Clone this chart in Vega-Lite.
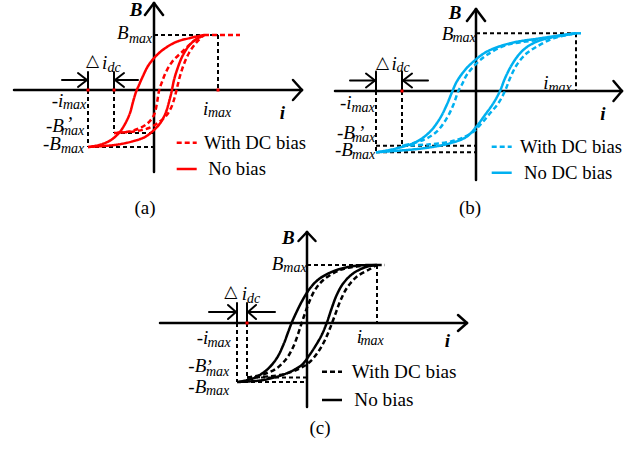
{
"$schema":"https://vega.github.io/schema/vega-lite/v6.json",
"padding":0,
"spacing":0,
"config":{"view":{"stroke":null},"concat":{"spacing":0},"text":{"font":"Liberation Serif, Times New Roman, serif"}},
"resolve":{"scale":{"x":"independent","y":"independent"}},
"datasets":{
"segments":[
{"panel":"a","series":"axis","i":-140,"B":0,"i2":148,"B2":0},
{"panel":"a","series":"axis","i":139,"B":10,"i2":148,"B2":0},
{"panel":"a","series":"axis","i":139,"B":-10,"i2":148,"B2":0},
{"panel":"a","series":"axis","i":0,"B":-82,"i2":0,"B2":87},
{"panel":"a","series":"axis","i":-9,"B":75,"i2":0,"B2":87},
{"panel":"a","series":"axis","i":9,"B":75,"i2":0,"B2":87},
{"panel":"a","series":"arrow","i":-66,"B":0,"i2":-66,"B2":18},
{"panel":"a","series":"arrow","i":-40,"B":0,"i2":-40,"B2":18},
{"panel":"a","series":"arrow","i":-92,"B":10,"i2":-67,"B2":10},
{"panel":"a","series":"arrow","i":-76,"B":17,"i2":-67,"B2":10},
{"panel":"a","series":"arrow","i":-76,"B":3,"i2":-67,"B2":10},
{"panel":"a","series":"arrow","i":-16,"B":10,"i2":-39,"B2":10},
{"panel":"a","series":"arrow","i":-30,"B":17,"i2":-39,"B2":10},
{"panel":"a","series":"arrow","i":-30,"B":3,"i2":-39,"B2":10},
{"panel":"a","series":"guide","i":0,"B":55,"i2":64,"B2":55},
{"panel":"a","series":"guide","i":64,"B":55,"i2":64,"B2":0},
{"panel":"a","series":"guide","i":-66,"B":0,"i2":-66,"B2":-57},
{"panel":"a","series":"guide","i":-66,"B":-57,"i2":0,"B2":-57},
{"panel":"a","series":"guide","i":-40,"B":0,"i2":-40,"B2":-43},
{"panel":"a","series":"guide","i":-40,"B":-43,"i2":0,"B2":-43},
{"panel":"b","series":"axis","i":-141,"B":0,"i2":146,"B2":0},
{"panel":"b","series":"axis","i":137.5,"B":10,"i2":146,"B2":0},
{"panel":"b","series":"axis","i":137.5,"B":-10,"i2":146,"B2":0},
{"panel":"b","series":"axis","i":0,"B":-89,"i2":0,"B2":82},
{"panel":"b","series":"axis","i":-9,"B":70,"i2":0,"B2":82},
{"panel":"b","series":"axis","i":9,"B":70,"i2":0,"B2":82},
{"panel":"b","series":"arrow","i":-100,"B":0,"i2":-100,"B2":19.5},
{"panel":"b","series":"arrow","i":-74,"B":0,"i2":-74,"B2":19.5},
{"panel":"b","series":"arrow","i":-126,"B":10.5,"i2":-101,"B2":10.5},
{"panel":"b","series":"arrow","i":-110,"B":17.5,"i2":-101,"B2":10.5},
{"panel":"b","series":"arrow","i":-110,"B":3.5,"i2":-101,"B2":10.5},
{"panel":"b","series":"arrow","i":-48,"B":10.5,"i2":-73,"B2":10.5},
{"panel":"b","series":"arrow","i":-64,"B":17.5,"i2":-73,"B2":10.5},
{"panel":"b","series":"arrow","i":-64,"B":3.5,"i2":-73,"B2":10.5},
{"panel":"b","series":"guide","i":0,"B":57.7,"i2":100,"B2":57.7},
{"panel":"b","series":"guide","i":100,"B":57.7,"i2":100,"B2":0},
{"panel":"b","series":"guide","i":-100,"B":0,"i2":-100,"B2":-61.3},
{"panel":"b","series":"guide","i":-100,"B":-61.3,"i2":0,"B2":-61.3},
{"panel":"b","series":"guide","i":-74,"B":0,"i2":-74,"B2":-54.7},
{"panel":"b","series":"guide","i":-100,"B":-54.7,"i2":0,"B2":-54.7},
{"panel":"c","series":"axis","i":-147,"B":0,"i2":160,"B2":0},
{"panel":"c","series":"axis","i":151,"B":8,"i2":160,"B2":0},
{"panel":"c","series":"axis","i":151,"B":-8,"i2":160,"B2":0},
{"panel":"c","series":"axis","i":0,"B":-84,"i2":0,"B2":91},
{"panel":"c","series":"axis","i":-8.5,"B":82,"i2":0,"B2":91},
{"panel":"c","series":"axis","i":8.5,"B":82,"i2":0,"B2":91},
{"panel":"c","series":"arrow","i":-70,"B":0,"i2":-70,"B2":20},
{"panel":"c","series":"arrow","i":-60,"B":0,"i2":-60,"B2":20},
{"panel":"c","series":"arrow","i":-98,"B":11,"i2":-71,"B2":11},
{"panel":"c","series":"arrow","i":-79,"B":18,"i2":-71,"B2":11},
{"panel":"c","series":"arrow","i":-79,"B":4,"i2":-71,"B2":11},
{"panel":"c","series":"arrow","i":-32,"B":11,"i2":-59,"B2":11},
{"panel":"c","series":"arrow","i":-51,"B":18,"i2":-59,"B2":11},
{"panel":"c","series":"arrow","i":-51,"B":4,"i2":-59,"B2":11},
{"panel":"c","series":"guide","i":0,"B":58,"i2":70,"B2":58},
{"panel":"c","series":"guide","i":70,"B":58,"i2":70,"B2":0},
{"panel":"c","series":"guide","i":-70,"B":0,"i2":-70,"B2":-59},
{"panel":"c","series":"guide","i":-70,"B":-59,"i2":0,"B2":-59},
{"panel":"c","series":"guide","i":-60,"B":0,"i2":-60,"B2":-54.5},
{"panel":"c","series":"guide","i":-60,"B":-54.5,"i2":0,"B2":-54.5}
],
"curves":[
{"panel":"a","id":"a1","series":"No bias","ord":1,"i":50,"B":55},
{"panel":"a","id":"a1","series":"No bias","ord":2,"i":36,"B":52},
{"panel":"a","id":"a1","series":"No bias","ord":3,"i":22,"B":48},
{"panel":"a","id":"a1","series":"No bias","ord":4,"i":10,"B":41},
{"panel":"a","id":"a1","series":"No bias","ord":5,"i":1,"B":33},
{"panel":"a","id":"a1","series":"No bias","ord":6,"i":-6,"B":24},
{"panel":"a","id":"a1","series":"No bias","ord":7,"i":-11,"B":14},
{"panel":"a","id":"a1","series":"No bias","ord":8,"i":-15,"B":5},
{"panel":"a","id":"a1","series":"No bias","ord":9,"i":-18,"B":-2},
{"panel":"a","id":"a1","series":"No bias","ord":10,"i":-21,"B":-12},
{"panel":"a","id":"a1","series":"No bias","ord":11,"i":-24,"B":-23},
{"panel":"a","id":"a1","series":"No bias","ord":12,"i":-29,"B":-34},
{"panel":"a","id":"a1","series":"No bias","ord":13,"i":-35,"B":-43},
{"panel":"a","id":"a1","series":"No bias","ord":14,"i":-43,"B":-50},
{"panel":"a","id":"a1","series":"No bias","ord":15,"i":-53,"B":-54.5},
{"panel":"a","id":"a1","series":"No bias","ord":16,"i":-66,"B":-57},
{"panel":"a","id":"a2","series":"No bias","ord":1,"i":-66,"B":-57},
{"panel":"a","id":"a2","series":"No bias","ord":2,"i":-50,"B":-56},
{"panel":"a","id":"a2","series":"No bias","ord":3,"i":-36,"B":-54.5},
{"panel":"a","id":"a2","series":"No bias","ord":4,"i":-22,"B":-51.5},
{"panel":"a","id":"a2","series":"No bias","ord":5,"i":-9,"B":-47},
{"panel":"a","id":"a2","series":"No bias","ord":6,"i":0,"B":-40},
{"panel":"a","id":"a2","series":"No bias","ord":7,"i":7,"B":-32},
{"panel":"a","id":"a2","series":"No bias","ord":8,"i":12,"B":-22},
{"panel":"a","id":"a2","series":"No bias","ord":9,"i":15,"B":-12},
{"panel":"a","id":"a2","series":"No bias","ord":10,"i":17.5,"B":-2},
{"panel":"a","id":"a2","series":"No bias","ord":11,"i":20,"B":10},
{"panel":"a","id":"a2","series":"No bias","ord":12,"i":23,"B":20},
{"panel":"a","id":"a2","series":"No bias","ord":13,"i":28,"B":33},
{"panel":"a","id":"a2","series":"No bias","ord":14,"i":34,"B":43},
{"panel":"a","id":"a2","series":"No bias","ord":15,"i":41,"B":50},
{"panel":"a","id":"a2","series":"No bias","ord":16,"i":50,"B":55},
{"panel":"a","id":"a3","series":"With DC bias","ord":1,"i":50,"B":55},
{"panel":"a","id":"a3","series":"With DC bias","ord":2,"i":40,"B":49},
{"panel":"a","id":"a3","series":"With DC bias","ord":3,"i":28,"B":38},
{"panel":"a","id":"a3","series":"With DC bias","ord":4,"i":18,"B":28},
{"panel":"a","id":"a3","series":"With DC bias","ord":5,"i":12,"B":18},
{"panel":"a","id":"a3","series":"With DC bias","ord":6,"i":8,"B":8},
{"panel":"a","id":"a3","series":"With DC bias","ord":7,"i":5,"B":-1},
{"panel":"a","id":"a3","series":"With DC bias","ord":8,"i":3,"B":-13},
{"panel":"a","id":"a3","series":"With DC bias","ord":9,"i":0,"B":-25},
{"panel":"a","id":"a3","series":"With DC bias","ord":10,"i":-6,"B":-33},
{"panel":"a","id":"a3","series":"With DC bias","ord":11,"i":-14,"B":-38},
{"panel":"a","id":"a3","series":"With DC bias","ord":12,"i":-25,"B":-41.5},
{"panel":"a","id":"a3","series":"With DC bias","ord":13,"i":-40,"B":-43},
{"panel":"a","id":"a4","series":"With DC bias","ord":1,"i":-40,"B":-43},
{"panel":"a","id":"a4","series":"With DC bias","ord":2,"i":-20,"B":-41.5},
{"panel":"a","id":"a4","series":"With DC bias","ord":3,"i":-5,"B":-38},
{"panel":"a","id":"a4","series":"With DC bias","ord":4,"i":5,"B":-32},
{"panel":"a","id":"a4","series":"With DC bias","ord":5,"i":12,"B":-26},
{"panel":"a","id":"a4","series":"With DC bias","ord":6,"i":17,"B":-18},
{"panel":"a","id":"a4","series":"With DC bias","ord":7,"i":20.5,"B":-8},
{"panel":"a","id":"a4","series":"With DC bias","ord":8,"i":23,"B":2},
{"panel":"a","id":"a4","series":"With DC bias","ord":9,"i":26,"B":14},
{"panel":"a","id":"a4","series":"With DC bias","ord":10,"i":30,"B":26},
{"panel":"a","id":"a4","series":"With DC bias","ord":11,"i":35,"B":37},
{"panel":"a","id":"a4","series":"With DC bias","ord":12,"i":42,"B":47},
{"panel":"a","id":"a4","series":"With DC bias","ord":13,"i":50,"B":55},
{"panel":"a","id":"a5","series":"With DC bias","ord":1,"i":50,"B":55},
{"panel":"a","id":"a5","series":"With DC bias","ord":2,"i":86,"B":55},
{"panel":"a","id":"a6","series":"With DC bias","ord":1,"i":22.7,"B":-52.7},
{"panel":"a","id":"a6","series":"With DC bias","ord":2,"i":42.7,"B":-52.7},
{"panel":"a","id":"a7","series":"No bias","ord":1,"i":22.7,"B":-79},
{"panel":"a","id":"a7","series":"No bias","ord":2,"i":42.7,"B":-79},
{"panel":"b","id":"b1","series":"No bias","ord":1,"i":100,"B":57.7},
{"panel":"b","id":"b1","series":"No bias","ord":2,"i":64,"B":52.7},
{"panel":"b","id":"b1","series":"No bias","ord":3,"i":34,"B":47.7},
{"panel":"b","id":"b1","series":"No bias","ord":4,"i":10.7,"B":39.3},
{"panel":"b","id":"b1","series":"No bias","ord":5,"i":-2.7,"B":29.3},
{"panel":"b","id":"b1","series":"No bias","ord":6,"i":-11,"B":21},
{"panel":"b","id":"b1","series":"No bias","ord":7,"i":-19.3,"B":9.3},
{"panel":"b","id":"b1","series":"No bias","ord":8,"i":-23.5,"B":0},
{"panel":"b","id":"b1","series":"No bias","ord":9,"i":-29.3,"B":-14},
{"panel":"b","id":"b1","series":"No bias","ord":10,"i":-36,"B":-27.3},
{"panel":"b","id":"b1","series":"No bias","ord":11,"i":-46,"B":-40.7},
{"panel":"b","id":"b1","series":"No bias","ord":12,"i":-59.3,"B":-50.7},
{"panel":"b","id":"b1","series":"No bias","ord":13,"i":-79.3,"B":-57.3},
{"panel":"b","id":"b1","series":"No bias","ord":14,"i":-100,"B":-61.3},
{"panel":"b","id":"b2","series":"No bias","ord":1,"i":-100,"B":-61.3},
{"panel":"b","id":"b2","series":"No bias","ord":2,"i":-52.7,"B":-57.3},
{"panel":"b","id":"b2","series":"No bias","ord":3,"i":-26,"B":-52.3},
{"panel":"b","id":"b2","series":"No bias","ord":4,"i":-9.3,"B":-45.7},
{"panel":"b","id":"b2","series":"No bias","ord":5,"i":0,"B":-36},
{"panel":"b","id":"b2","series":"No bias","ord":6,"i":9,"B":-24},
{"panel":"b","id":"b2","series":"No bias","ord":7,"i":17.3,"B":-12.3},
{"panel":"b","id":"b2","series":"No bias","ord":8,"i":24,"B":0},
{"panel":"b","id":"b2","series":"No bias","ord":9,"i":29,"B":12.7},
{"panel":"b","id":"b2","series":"No bias","ord":10,"i":35.7,"B":26},
{"panel":"b","id":"b2","series":"No bias","ord":11,"i":44,"B":37.7},
{"panel":"b","id":"b2","series":"No bias","ord":12,"i":54,"B":46},
{"panel":"b","id":"b2","series":"No bias","ord":13,"i":70.7,"B":52.7},
{"panel":"b","id":"b2","series":"No bias","ord":14,"i":100,"B":57.7},
{"panel":"b","id":"b3","series":"With DC bias","ord":1,"i":100,"B":57.7},
{"panel":"b","id":"b3","series":"With DC bias","ord":2,"i":60.7,"B":51},
{"panel":"b","id":"b3","series":"With DC bias","ord":3,"i":30.7,"B":46},
{"panel":"b","id":"b3","series":"With DC bias","ord":4,"i":10.7,"B":36},
{"panel":"b","id":"b3","series":"With DC bias","ord":5,"i":-1,"B":26},
{"panel":"b","id":"b3","series":"With DC bias","ord":6,"i":-9.3,"B":16},
{"panel":"b","id":"b3","series":"With DC bias","ord":7,"i":-14.3,"B":6},
{"panel":"b","id":"b3","series":"With DC bias","ord":8,"i":-17.7,"B":0},
{"panel":"b","id":"b3","series":"With DC bias","ord":9,"i":-22.7,"B":-14},
{"panel":"b","id":"b3","series":"With DC bias","ord":10,"i":-29.3,"B":-27.3},
{"panel":"b","id":"b3","series":"With DC bias","ord":11,"i":-39.3,"B":-40.7},
{"panel":"b","id":"b3","series":"With DC bias","ord":12,"i":-52.7,"B":-49},
{"panel":"b","id":"b3","series":"With DC bias","ord":13,"i":-74,"B":-54.7},
{"panel":"b","id":"b4","series":"With DC bias","ord":1,"i":-74,"B":-54.7},
{"panel":"b","id":"b4","series":"With DC bias","ord":2,"i":-46,"B":-53.3},
{"panel":"b","id":"b4","series":"With DC bias","ord":3,"i":-19.3,"B":-49},
{"panel":"b","id":"b4","series":"With DC bias","ord":4,"i":-2.7,"B":-40.7},
{"panel":"b","id":"b4","series":"With DC bias","ord":5,"i":5.7,"B":-32.3},
{"panel":"b","id":"b4","series":"With DC bias","ord":6,"i":14,"B":-22.3},
{"panel":"b","id":"b4","series":"With DC bias","ord":7,"i":22.3,"B":-12.3},
{"panel":"b","id":"b4","series":"With DC bias","ord":8,"i":29,"B":0},
{"panel":"b","id":"b4","series":"With DC bias","ord":9,"i":34,"B":12.7},
{"panel":"b","id":"b4","series":"With DC bias","ord":10,"i":40.7,"B":26},
{"panel":"b","id":"b4","series":"With DC bias","ord":11,"i":50.7,"B":37.7},
{"panel":"b","id":"b4","series":"With DC bias","ord":12,"i":60.7,"B":44.3},
{"panel":"b","id":"b4","series":"With DC bias","ord":13,"i":77.3,"B":52.7},
{"panel":"b","id":"b4","series":"With DC bias","ord":14,"i":100,"B":57.7},
{"panel":"b","id":"b5","series":"With DC bias","ord":1,"i":100,"B":57.7},
{"panel":"b","id":"b5","series":"With DC bias","ord":2,"i":107.5,"B":57.7},
{"panel":"b","id":"b6","series":"With DC bias","ord":1,"i":15.7,"B":-55.7},
{"panel":"b","id":"b6","series":"With DC bias","ord":2,"i":35.7,"B":-55.7},
{"panel":"b","id":"b7","series":"No bias","ord":1,"i":15.7,"B":-81.7},
{"panel":"b","id":"b7","series":"No bias","ord":2,"i":35.7,"B":-81.7},
{"panel":"c","id":"c1","series":"No bias","ord":1,"i":69.7,"B":58},
{"panel":"c","id":"c1","series":"No bias","ord":2,"i":49.7,"B":57.3},
{"panel":"c","id":"c1","series":"No bias","ord":3,"i":29.7,"B":53},
{"panel":"c","id":"c1","series":"No bias","ord":4,"i":13,"B":44.7},
{"panel":"c","id":"c1","series":"No bias","ord":5,"i":3,"B":34.7},
{"panel":"c","id":"c1","series":"No bias","ord":6,"i":-5.3,"B":21.3},
{"panel":"c","id":"c1","series":"No bias","ord":7,"i":-10.3,"B":11.3},
{"panel":"c","id":"c1","series":"No bias","ord":8,"i":-15,"B":1},
{"panel":"c","id":"c1","series":"No bias","ord":9,"i":-18.7,"B":-8.7},
{"panel":"c","id":"c1","series":"No bias","ord":10,"i":-23.7,"B":-22},
{"panel":"c","id":"c1","series":"No bias","ord":11,"i":-30.3,"B":-35.3},
{"panel":"c","id":"c1","series":"No bias","ord":12,"i":-40.3,"B":-47},
{"panel":"c","id":"c1","series":"No bias","ord":13,"i":-53.7,"B":-55.3},
{"panel":"c","id":"c1","series":"No bias","ord":14,"i":-69.7,"B":-59},
{"panel":"c","id":"c2","series":"No bias","ord":1,"i":-69.7,"B":-59},
{"panel":"c","id":"c2","series":"No bias","ord":2,"i":-43.7,"B":-57},
{"panel":"c","id":"c2","series":"No bias","ord":3,"i":-20.3,"B":-50.3},
{"panel":"c","id":"c2","series":"No bias","ord":4,"i":-5.3,"B":-42},
{"panel":"c","id":"c2","series":"No bias","ord":5,"i":1.3,"B":-33.7},
{"panel":"c","id":"c2","series":"No bias","ord":6,"i":8,"B":-23.7},
{"panel":"c","id":"c2","series":"No bias","ord":7,"i":14.7,"B":-12},
{"panel":"c","id":"c2","series":"No bias","ord":8,"i":19.7,"B":0},
{"panel":"c","id":"c2","series":"No bias","ord":9,"i":24.7,"B":14.7},
{"panel":"c","id":"c2","series":"No bias","ord":10,"i":29.7,"B":28},
{"panel":"c","id":"c2","series":"No bias","ord":11,"i":36.3,"B":39.7},
{"panel":"c","id":"c2","series":"No bias","ord":12,"i":46.3,"B":49.7},
{"panel":"c","id":"c2","series":"No bias","ord":13,"i":59.7,"B":56.3},
{"panel":"c","id":"c2","series":"No bias","ord":14,"i":69.7,"B":58},
{"panel":"c","id":"c3","series":"With DC bias","ord":1,"i":69.7,"B":58},
{"panel":"c","id":"c3","series":"With DC bias","ord":2,"i":50,"B":56.5},
{"panel":"c","id":"c3","series":"With DC bias","ord":3,"i":33,"B":53},
{"panel":"c","id":"c3","series":"With DC bias","ord":4,"i":16.3,"B":43},
{"panel":"c","id":"c3","series":"With DC bias","ord":5,"i":8,"B":33},
{"panel":"c","id":"c3","series":"With DC bias","ord":6,"i":3,"B":23},
{"panel":"c","id":"c3","series":"With DC bias","ord":7,"i":-2,"B":9.7},
{"panel":"c","id":"c3","series":"With DC bias","ord":8,"i":-5.3,"B":0},
{"panel":"c","id":"c3","series":"With DC bias","ord":9,"i":-8.7,"B":-10.3},
{"panel":"c","id":"c3","series":"With DC bias","ord":10,"i":-13.7,"B":-23.7},
{"panel":"c","id":"c3","series":"With DC bias","ord":11,"i":-20.3,"B":-35.3},
{"panel":"c","id":"c3","series":"With DC bias","ord":12,"i":-30.3,"B":-45.3},
{"panel":"c","id":"c3","series":"With DC bias","ord":13,"i":-43.7,"B":-51.3},
{"panel":"c","id":"c3","series":"With DC bias","ord":14,"i":-60,"B":-54.5},
{"panel":"c","id":"c4","series":"With DC bias","ord":1,"i":-60,"B":-54.5},
{"panel":"c","id":"c4","series":"With DC bias","ord":2,"i":-27,"B":-52},
{"panel":"c","id":"c4","series":"With DC bias","ord":3,"i":-7,"B":-45.3},
{"panel":"c","id":"c4","series":"With DC bias","ord":4,"i":3,"B":-38.7},
{"panel":"c","id":"c4","series":"With DC bias","ord":5,"i":11.3,"B":-28.7},
{"panel":"c","id":"c4","series":"With DC bias","ord":6,"i":18,"B":-17},
{"panel":"c","id":"c4","series":"With DC bias","ord":7,"i":23,"B":-5.3},
{"panel":"c","id":"c4","series":"With DC bias","ord":8,"i":28,"B":8},
{"panel":"c","id":"c4","series":"With DC bias","ord":9,"i":33,"B":21.3},
{"panel":"c","id":"c4","series":"With DC bias","ord":10,"i":39.7,"B":34.7},
{"panel":"c","id":"c4","series":"With DC bias","ord":11,"i":49.7,"B":46.3},
{"panel":"c","id":"c4","series":"With DC bias","ord":12,"i":63,"B":54},
{"panel":"c","id":"c4","series":"With DC bias","ord":13,"i":69.7,"B":58},
{"panel":"c","id":"c5","series":"With DC bias","ord":1,"i":69.7,"B":58},
{"panel":"c","id":"c5","series":"With DC bias","ord":2,"i":78,"B":58},
{"panel":"c","id":"c6","series":"With DC bias","ord":1,"i":15,"B":-48.7},
{"panel":"c","id":"c6","series":"With DC bias","ord":2,"i":35,"B":-48.7},
{"panel":"c","id":"c7","series":"No bias","ord":1,"i":15,"B":-77},
{"panel":"c","id":"c7","series":"No bias","ord":2,"i":35,"B":-77}
],
"dots":[
{"panel":"a","i":-66,"B":0},{"panel":"a","i":-40,"B":0},{"panel":"a","i":64,"B":0},
{"panel":"b","i":-74,"B":0},
{"panel":"c","i":-60,"B":0}
],
"texts":[
{"panel":"a","role":"axis title","text":"B","i":-18,"B":80},
{"panel":"a","role":"axis title","text":"i","i":128.5,"B":-22.5},
{"panel":"a","role":"label","text":"B","i":-37,"B":50.7},
{"panel":"a","role":"subscript","text":"max","i":-25,"B":47.3},
{"panel":"a","role":"label","text":"i","i":49,"B":-25},
{"panel":"a","role":"subscript","text":"max","i":54,"B":-27},
{"panel":"a","role":"label","text":"-i","i":-102.3,"B":-17},
{"panel":"a","role":"subscript","text":"max","i":-91,"B":-19},
{"panel":"a","role":"label","text":"-B","i":-108,"B":-41.7},
{"panel":"a","role":"label","text":"’","i":-88,"B":-40},
{"panel":"a","role":"subscript","text":"max","i":-93,"B":-45},
{"panel":"a","role":"label","text":"-B","i":-111,"B":-60},
{"panel":"a","role":"subscript","text":"max","i":-93,"B":-63},
{"panel":"a","role":"symbol","text":"△","i":-61.5,"B":29},
{"panel":"a","role":"label","text":"i","i":-52,"B":21},
{"panel":"a","role":"subscript","text":"dc","i":-46.5,"B":18.5},
{"panel":"a","role":"legend","text":"With DC bias","i":50,"B":-52.7},
{"panel":"a","role":"legend","text":"No bias","i":54.3,"B":-79},
{"panel":"a","role":"caption","text":"(a)","i":-9,"B":-118},
{"panel":"b","role":"axis title","text":"B","i":-21,"B":78.5},
{"panel":"b","role":"axis title","text":"i","i":127,"B":-23},
{"panel":"b","role":"label","text":"B","i":-34.3,"B":51},
{"panel":"b","role":"subscript","text":"max","i":-23.5,"B":49.3},
{"panel":"b","role":"label","text":"i","i":67.3,"B":2},
{"panel":"b","role":"subscript","text":"max","i":72.5,"B":-0.5},
{"panel":"b","role":"label","text":"-i","i":-136,"B":-17.5},
{"panel":"b","role":"subscript","text":"max","i":-124.5,"B":-20.5},
{"panel":"b","role":"label","text":"-B","i":-139,"B":-48},
{"panel":"b","role":"label","text":"’","i":-118,"B":-47.5},
{"panel":"b","role":"subscript","text":"max","i":-124,"B":-51},
{"panel":"b","role":"label","text":"-B","i":-141,"B":-65},
{"panel":"b","role":"subscript","text":"max","i":-124,"B":-67.5},
{"panel":"b","role":"symbol","text":"△","i":-93.5,"B":27.7},
{"panel":"b","role":"label","text":"i","i":-84.5,"B":21},
{"panel":"b","role":"subscript","text":"dc","i":-79.5,"B":19},
{"panel":"b","role":"legend","text":"With DC bias","i":44,"B":-55.7},
{"panel":"b","role":"legend","text":"No DC bias","i":48,"B":-81.7},
{"panel":"b","role":"caption","text":"(b)","i":-6,"B":-117},
{"panel":"c","role":"axis title","text":"B","i":-18.7,"B":84.7},
{"panel":"c","role":"axis title","text":"i","i":140.5,"B":-18},
{"panel":"c","role":"label","text":"B","i":-35.3,"B":53.5},
{"panel":"c","role":"subscript","text":"max","i":-23.7,"B":51.5},
{"panel":"c","role":"label","text":"i","i":49.7,"B":-19.5},
{"panel":"c","role":"subscript","text":"max","i":53.5,"B":-22},
{"panel":"c","role":"label","text":"-i","i":-110.3,"B":-21},
{"panel":"c","role":"subscript","text":"max","i":-99.5,"B":-24},
{"panel":"c","role":"label","text":"-B","i":-118.7,"B":-49.3},
{"panel":"c","role":"label","text":"’","i":-101.5,"B":-50},
{"panel":"c","role":"subscript","text":"max","i":-101,"B":-52.7},
{"panel":"c","role":"label","text":"-B","i":-118.7,"B":-70.3},
{"panel":"c","role":"subscript","text":"max","i":-101,"B":-72},
{"panel":"c","role":"symbol","text":"△","i":-76.2,"B":31},
{"panel":"c","role":"label","text":"i","i":-65.3,"B":23},
{"panel":"c","role":"subscript","text":"dc","i":-60,"B":20.5},
{"panel":"c","role":"legend","text":"With DC bias","i":44.7,"B":-48.7},
{"panel":"c","role":"legend","text":"No bias","i":47.3,"B":-77},
{"panel":"c","role":"caption","text":"(c)","i":13,"B":-105.3}
]
},
"vconcat":[
{"hconcat":[
{"width":321,"height":218,
"encoding":{"x":{"field":"i","type":"quantitative","scale":{"domain":[-154,167],"nice":false,"zero":false},"axis":null},
"y":{"field":"B","type":"quantitative","scale":{"domain":[-128,90],"nice":false,"zero":false},"axis":null}},
"layer":[
{"data":{"name":"segments"},"transform":[{"filter":"datum.panel==='a' && datum.series==='guide'"}],"mark":{"type":"rule","color":"#000000","strokeWidth":2,"strokeDash":[4,3]},"encoding":{"x2":{"field":"i2"},"y2":{"field":"B2"}}},
{"data":{"name":"segments"},"transform":[{"filter":"datum.panel==='a' && datum.series==='axis'"}],"mark":{"type":"rule","color":"#000000","strokeWidth":2.5,"strokeCap":"round"},"encoding":{"x2":{"field":"i2"},"y2":{"field":"B2"}}},
{"data":{"name":"segments"},"transform":[{"filter":"datum.panel==='a' && datum.series==='arrow'"}],"mark":{"type":"rule","color":"#000000","strokeWidth":2,"strokeCap":"round"},"encoding":{"x2":{"field":"i2"},"y2":{"field":"B2"}}},
{"data":{"name":"curves"},"transform":[{"filter":"datum.panel==='a'"}],"mark":{"type":"line","color":"#FF0000","strokeWidth":2.5,"interpolate":"catmull-rom"},"encoding":{"detail":{"field":"id"},"order":{"field":"ord","type":"quantitative"},"strokeDash":{"field":"series","type":"nominal","scale":{"domain":["No bias","With DC bias"],"range":[[1,0],[5,3]]},"legend":null}}},
{"data":{"name":"dots"},"transform":[{"filter":"datum.panel==='a'"}],"mark":{"type":"point","shape":"square","filled":true,"size":9,"color":"#FF0000","opacity":1}},
{"data":{"name":"texts"},"transform":[{"filter":"datum.panel==='a' && datum.role==='axis title'"}],"mark":{"type":"text","font":"Liberation Serif, serif","fontStyle":"italic","fontWeight":"bold","fontSize":19,"align":"center","baseline":"middle","color":"#000000"},"encoding":{"text":{"field":"text"}}},
{"data":{"name":"texts"},"transform":[{"filter":"datum.panel==='a' && datum.role==='label'"}],"mark":{"type":"text","font":"Liberation Serif, serif","fontStyle":"italic","fontSize":19,"align":"left","baseline":"alphabetic","color":"#000000"},"encoding":{"text":{"field":"text"}}},
{"data":{"name":"texts"},"transform":[{"filter":"datum.panel==='a' && datum.role==='subscript'"}],"mark":{"type":"text","font":"Liberation Serif, serif","fontStyle":"italic","fontSize":14,"align":"left","baseline":"alphabetic","color":"#000000"},"encoding":{"text":{"field":"text"}}},
{"data":{"name":"texts"},"transform":[{"filter":"datum.panel==='a' && datum.role==='symbol'"}],"mark":{"type":"text","font":"DejaVu Sans","fontSize":17,"align":"center","baseline":"middle","color":"#000000"},"encoding":{"text":{"field":"text"}}},
{"data":{"name":"texts"},"transform":[{"filter":"datum.panel==='a' && datum.role==='legend'"}],"mark":{"type":"text","font":"Liberation Serif, serif","fontSize":18.7,"align":"left","baseline":"middle","color":"#000000"},"encoding":{"text":{"field":"text"}}},
{"data":{"name":"texts"},"transform":[{"filter":"datum.panel==='a' && datum.role==='caption'"}],"mark":{"type":"text","font":"Liberation Serif, serif","fontSize":19,"align":"center","baseline":"middle","color":"#000000"},"encoding":{"text":{"field":"text"}}}
]},
{"width":321,"height":218,
"encoding":{"x":{"field":"i","type":"quantitative","scale":{"domain":[-155,166],"nice":false,"zero":false},"axis":null},
"y":{"field":"B","type":"quantitative","scale":{"domain":[-127,91],"nice":false,"zero":false},"axis":null}},
"layer":[
{"data":{"name":"segments"},"transform":[{"filter":"datum.panel==='b' && datum.series==='guide'"}],"mark":{"type":"rule","color":"#000000","strokeWidth":2,"strokeDash":[4,3]},"encoding":{"x2":{"field":"i2"},"y2":{"field":"B2"}}},
{"data":{"name":"segments"},"transform":[{"filter":"datum.panel==='b' && datum.series==='axis'"}],"mark":{"type":"rule","color":"#000000","strokeWidth":2.5,"strokeCap":"round"},"encoding":{"x2":{"field":"i2"},"y2":{"field":"B2"}}},
{"data":{"name":"segments"},"transform":[{"filter":"datum.panel==='b' && datum.series==='arrow'"}],"mark":{"type":"rule","color":"#000000","strokeWidth":2,"strokeCap":"round"},"encoding":{"x2":{"field":"i2"},"y2":{"field":"B2"}}},
{"data":{"name":"curves"},"transform":[{"filter":"datum.panel==='b'"}],"mark":{"type":"line","color":"#00B0F0","strokeWidth":2.5,"interpolate":"catmull-rom"},"encoding":{"detail":{"field":"id"},"order":{"field":"ord","type":"quantitative"},"strokeDash":{"field":"series","type":"nominal","scale":{"domain":["No bias","With DC bias"],"range":[[1,0],[5,3]]},"legend":null}}},
{"data":{"name":"dots"},"transform":[{"filter":"datum.panel==='b'"}],"mark":{"type":"point","shape":"square","filled":true,"size":9,"color":"#FF0000","opacity":1}},
{"data":{"name":"texts"},"transform":[{"filter":"datum.panel==='b' && datum.role==='axis title'"}],"mark":{"type":"text","font":"Liberation Serif, serif","fontStyle":"italic","fontWeight":"bold","fontSize":19,"align":"center","baseline":"middle","color":"#000000"},"encoding":{"text":{"field":"text"}}},
{"data":{"name":"texts"},"transform":[{"filter":"datum.panel==='b' && datum.role==='label'"}],"mark":{"type":"text","font":"Liberation Serif, serif","fontStyle":"italic","fontSize":19,"align":"left","baseline":"alphabetic","color":"#000000"},"encoding":{"text":{"field":"text"}}},
{"data":{"name":"texts"},"transform":[{"filter":"datum.panel==='b' && datum.role==='subscript'"}],"mark":{"type":"text","font":"Liberation Serif, serif","fontStyle":"italic","fontSize":14,"align":"left","baseline":"alphabetic","color":"#000000"},"encoding":{"text":{"field":"text"}}},
{"data":{"name":"texts"},"transform":[{"filter":"datum.panel==='b' && datum.role==='symbol'"}],"mark":{"type":"text","font":"DejaVu Sans","fontSize":17,"align":"center","baseline":"middle","color":"#000000"},"encoding":{"text":{"field":"text"}}},
{"data":{"name":"texts"},"transform":[{"filter":"datum.panel==='b' && datum.role==='legend'"}],"mark":{"type":"text","font":"Liberation Serif, serif","fontSize":18.7,"align":"left","baseline":"middle","color":"#000000"},"encoding":{"text":{"field":"text"}}},
{"data":{"name":"texts"},"transform":[{"filter":"datum.panel==='b' && datum.role==='caption'"}],"mark":{"type":"text","font":"Liberation Serif, serif","fontSize":19,"align":"center","baseline":"middle","color":"#000000"},"encoding":{"text":{"field":"text"}}}
]}
],
"spacing":0,
"resolve":{"scale":{"x":"independent","y":"independent"}}},
{"width":642,"height":234,
"encoding":{"x":{"field":"i","type":"quantitative","scale":{"domain":[-307,335],"nice":false,"zero":false},"axis":null},
"y":{"field":"B","type":"quantitative","scale":{"domain":[-129,105],"nice":false,"zero":false},"axis":null}},
"layer":[
{"data":{"name":"segments"},"transform":[{"filter":"datum.panel==='c' && datum.series==='guide'"}],"mark":{"type":"rule","color":"#000000","strokeWidth":2,"strokeDash":[4,3]},"encoding":{"x2":{"field":"i2"},"y2":{"field":"B2"}}},
{"data":{"name":"segments"},"transform":[{"filter":"datum.panel==='c' && datum.series==='axis'"}],"mark":{"type":"rule","color":"#000000","strokeWidth":2.5,"strokeCap":"round"},"encoding":{"x2":{"field":"i2"},"y2":{"field":"B2"}}},
{"data":{"name":"segments"},"transform":[{"filter":"datum.panel==='c' && datum.series==='arrow'"}],"mark":{"type":"rule","color":"#000000","strokeWidth":2,"strokeCap":"round"},"encoding":{"x2":{"field":"i2"},"y2":{"field":"B2"}}},
{"data":{"name":"curves"},"transform":[{"filter":"datum.panel==='c'"}],"mark":{"type":"line","color":"#000000","strokeWidth":2.5,"interpolate":"catmull-rom"},"encoding":{"detail":{"field":"id"},"order":{"field":"ord","type":"quantitative"},"strokeDash":{"field":"series","type":"nominal","scale":{"domain":["No bias","With DC bias"],"range":[[1,0],[5,3]]},"legend":null}}},
{"data":{"name":"dots"},"transform":[{"filter":"datum.panel==='c'"}],"mark":{"type":"point","shape":"square","filled":true,"size":9,"color":"#FF0000","opacity":1}},
{"data":{"name":"texts"},"transform":[{"filter":"datum.panel==='c' && datum.role==='axis title'"}],"mark":{"type":"text","font":"Liberation Serif, serif","fontStyle":"italic","fontWeight":"bold","fontSize":19,"align":"center","baseline":"middle","color":"#000000"},"encoding":{"text":{"field":"text"}}},
{"data":{"name":"texts"},"transform":[{"filter":"datum.panel==='c' && datum.role==='label'"}],"mark":{"type":"text","font":"Liberation Serif, serif","fontStyle":"italic","fontSize":19,"align":"left","baseline":"alphabetic","color":"#000000"},"encoding":{"text":{"field":"text"}}},
{"data":{"name":"texts"},"transform":[{"filter":"datum.panel==='c' && datum.role==='subscript'"}],"mark":{"type":"text","font":"Liberation Serif, serif","fontStyle":"italic","fontSize":14,"align":"left","baseline":"alphabetic","color":"#000000"},"encoding":{"text":{"field":"text"}}},
{"data":{"name":"texts"},"transform":[{"filter":"datum.panel==='c' && datum.role==='symbol'"}],"mark":{"type":"text","font":"DejaVu Sans","fontSize":17,"align":"center","baseline":"middle","color":"#000000"},"encoding":{"text":{"field":"text"}}},
{"data":{"name":"texts"},"transform":[{"filter":"datum.panel==='c' && datum.role==='legend'"}],"mark":{"type":"text","font":"Liberation Serif, serif","fontSize":19.2,"align":"left","baseline":"middle","color":"#000000"},"encoding":{"text":{"field":"text"}}},
{"data":{"name":"texts"},"transform":[{"filter":"datum.panel==='c' && datum.role==='caption'"}],"mark":{"type":"text","font":"Liberation Serif, serif","fontSize":19,"align":"center","baseline":"middle","color":"#000000"},"encoding":{"text":{"field":"text"}}}
]}
]
}
